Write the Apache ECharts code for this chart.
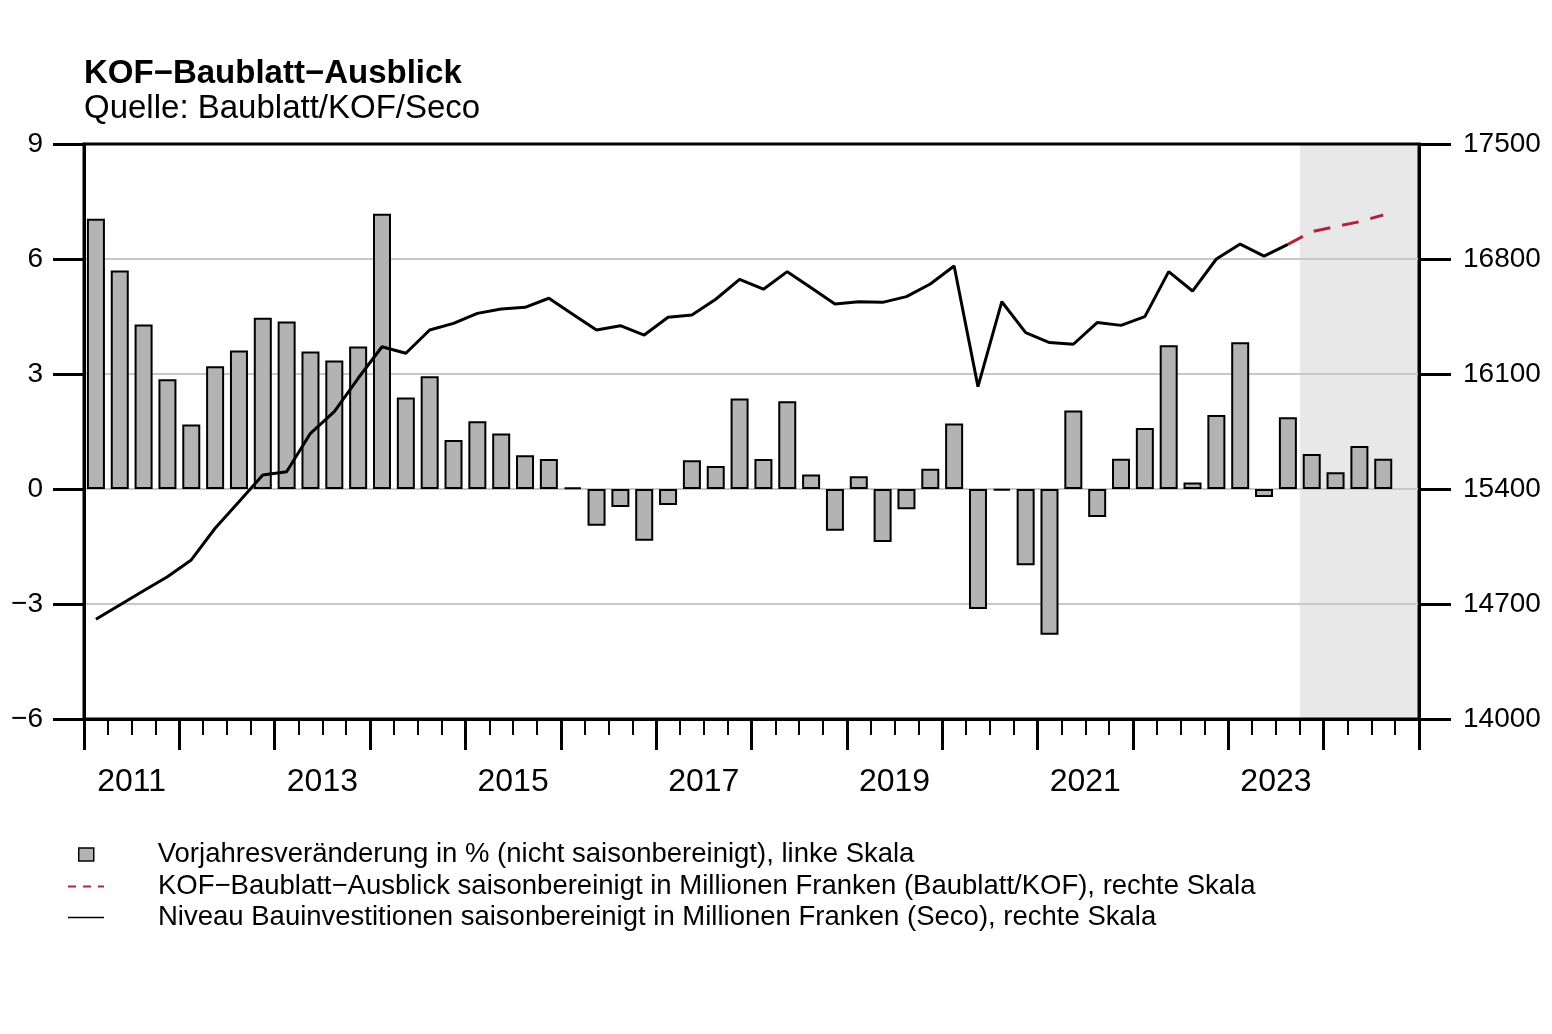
<!DOCTYPE html>
<html><head><meta charset="utf-8">
<script src="https://cdn.jsdelivr.net/npm/echarts@6/dist/echarts.min.js"></script>
<style>html,body{margin:0;padding:0;background:#fff}#c{width:1552px;height:1034px}</style>
</head><body><div id="c"></div>
<script>
// Quarterly categories 2011Q1 .. 2024Q4
const quarters = [];
for (let y = 2011; y <= 2024; y++) for (let q = 1; q <= 4; q++) quarters.push(y + 'Q' + q);

// Vorjahresveränderung in % (bars), 2011Q1 .. 2024Q3
const yoyChange = [7.05, 5.70, 4.29, 2.86, 1.68, 3.20, 3.61, 4.47, 4.37, 3.59,
  3.35, 3.72, 7.18, 2.39, 2.94, 1.28, 1.77, 1.45, 0.88, 0.78,
  0.04, -0.96, -0.47, -1.35, -0.42, 0.75, 0.60, 2.36, 0.78, 2.29,
  0.38, -1.09, 0.33, -1.38, -0.53, 0.53, 1.71, -3.13, -0.04, -1.99,
  -3.80, 2.05, -0.73, 0.79, 1.59, 3.75, 0.17, 1.93, 3.83, -0.21,
  1.87, 0.91, 0.44, 1.12, 0.79];

// Niveau Bauinvestitionen (Seco), 2011Q1 .. 2023Q3
const bauinvest = [14607, 14694, 14781, 14866, 14968, 15161, 15323, 15485, 15505, 15739,
  15871, 16074, 16266, 16226, 16368, 16408, 16469, 16496, 16506, 16561,
  16464, 16368, 16394, 16337, 16445, 16459, 16555, 16676, 16616, 16723,
  16625, 16526, 16540, 16536, 16571, 16648, 16757, 16023, 16540, 16352,
  16291, 16281, 16413, 16396, 16449, 16723, 16605, 16800, 16891, 16818,
  16889];

// KOF-Baublatt-Ausblick, 2023Q3 .. 2024Q3
const ausblickQuarters = ['2023Q3', '2023Q4', '2024Q1', '2024Q2', '2024Q3'];
const ausblick = [16889, 16966, 16997, 17027, 17068];

// Forecast shading range
const shadeFrom = '2023Q4';
const shadeTo = '2024Q4';

// Axis ranges / ticks
const leftAxis = {min: -6, max: 9, interval: 3};
const rightAxis = {min: 14000, max: 17500, interval: 700};
const yearLabels = [2011, 2013, 2015, 2017, 2019, 2021, 2023];

const nameBars = 'Vorjahresveränderung in % (nicht saisonbereinigt), linke Skala';
const nameKOF = 'KOF\u2212Baublatt\u2212Ausblick saisonbereinigt in Millionen Franken (Baublatt/KOF), rechte Skala';
const nameNiveau = 'Niveau Bauinvestitionen saisonbereinigt in Millionen Franken (Seco), rechte Skala';

function qStart(label) { const y = +label.slice(0, 4), q = +label.slice(5); return y + (q - 1) / 4; }
function qMid(label) { return qStart(label) + 0.125; }

const FONT = 'Liberation Sans, Arial, Helvetica, sans-serif';
const hiddenSymbol = {color: 'rgba(0,0,0,0)', borderWidth: 0, opacity: 0};

const chart = echarts.init(document.getElementById('c'), null, {renderer: 'canvas'});
chart.setOption({
  animation: false,
  backgroundColor: '#fff',
  textStyle: {fontFamily: FONT, color: '#000'},
  title: [
    {text: 'KOF\u2212Baublatt\u2212Ausblick', left: 84, top: 57, padding: 0,
     textStyle: {fontFamily: FONT, fontSize: 33, fontWeight: 'bold', color: '#000', lineHeight: 33}},
    {text: 'Quelle: Baublatt/KOF/Seco', left: 84, top: 92, padding: 0,
     textStyle: {fontFamily: FONT, fontSize: 33, fontWeight: 'normal', color: '#000', lineHeight: 33}}
  ],
  grid: {left: 84, right: 133, top: 144, bottom: 315, show: true, borderColor: '#000', borderWidth: 3,
         backgroundColor: 'transparent', containLabel: false, outerBoundsMode: 'none'},
  xAxis: [
    {type: 'value', position: 'bottom', min: 2011, max: 2025, interval: 1,
     axisLine: {show: true, onZero: false, lineStyle: {color: '#000', width: 3}},
     axisTick: {show: true, length: 31, lineStyle: {color: '#000', width: 3}},
     minorTick: {show: true, splitNumber: 4, length: 16, lineStyle: {color: '#000', width: 2}},
     axisLabel: {show: false}, splitLine: {show: false}, minorSplitLine: {show: false}},
    {type: 'value', position: 'bottom', min: 2011, max: 2025, interval: 0.5,
     axisLine: {show: false}, axisTick: {show: false}, splitLine: {show: false},
     axisLabel: {show: true, margin: 47, fontSize: 32, fontFamily: FONT, color: '#000',
       formatter: function (v) { const y = Math.floor(v); return (Math.abs(v - y - 0.5) < 1e-6 && yearLabels.indexOf(y) >= 0) ? String(y) : ''; }}}
  ],
  yAxis: [
    {type: 'value', position: 'left', min: leftAxis.min, max: leftAxis.max, interval: leftAxis.interval,
     axisLine: {show: true, onZero: false, lineStyle: {color: '#000', width: 3}},
     axisTick: {show: true, length: 31, lineStyle: {color: '#000', width: 3}},
     axisLabel: {margin: 41, fontSize: 28, fontFamily: FONT, color: '#000',
       formatter: v => v < 0 ? '\u2212' + Math.abs(v) : String(v)},
     splitLine: {show: true, showMinLine: false, showMaxLine: false, lineStyle: {color: '#c8c8c8', width: 2}}},
    {type: 'value', position: 'right', min: rightAxis.min, max: rightAxis.max, interval: rightAxis.interval,
     axisLine: {show: true, onZero: false, lineStyle: {color: '#000', width: 3}},
     axisTick: {show: true, length: 32, lineStyle: {color: '#000', width: 3}},
     axisLabel: {margin: 44, fontSize: 28, fontFamily: FONT, color: '#000', formatter: v => String(v)},
     splitLine: {show: false}}
  ],
  legend: [
    {orient: 'vertical', left: 78, top: 839, padding: 0, itemWidth: 15, itemHeight: 13, itemGap: 0, selectedMode: false,
     data: [{name: nameBars, icon: 'rect', itemStyle: {color: '#b3b3b3', borderColor: '#000', borderWidth: 1.5}}],
     textStyle: {fontFamily: FONT, fontSize: 27.5, color: '#000', lineHeight: 31, padding: [0, 0, 0, 59]}},
    {orient: 'vertical', left: 67, top: 871, padding: 0, itemWidth: 36, itemHeight: 14, itemGap: 0, selectedMode: false,
     data: [
       {name: nameKOF, lineStyle: {color: '#b3243a', width: 2, type: [8, 7]}, itemStyle: hiddenSymbol},
       {name: nameNiveau, lineStyle: {color: '#000', width: 1.5, type: 'solid'}, itemStyle: hiddenSymbol}
     ],
     textStyle: {fontFamily: FONT, fontSize: 27.5, color: '#000', lineHeight: 31, padding: [0, 0, 0, 49]}}
  ],
  series: [
    {name: 'shade', type: 'line', xAxisIndex: 0, yAxisIndex: 0, data: [], z: -1, silent: true,
     markArea: {silent: true, z: -1, itemStyle: {color: '#e8e8e8'},
       data: [[{xAxis: qStart(shadeFrom)}, {xAxis: qStart(shadeTo) + 0.25}]]}},
    {name: nameBars, type: 'bar', xAxisIndex: 0, yAxisIndex: 0, barWidth: 18, z: 2,
     itemStyle: {color: '#b3b3b3', borderColor: '#000', borderWidth: 2},
     data: yoyChange.map((v, i) => [qMid(quarters[i]), v])},
    {name: nameKOF, type: 'line', xAxisIndex: 0, yAxisIndex: 1, symbol: 'none', showSymbol: false, z: 4,
     lineStyle: {color: '#b3243a', width: 3, type: [17, 12]}, itemStyle: {color: '#b3243a'},
     data: ausblick.map((v, i) => [qMid(ausblickQuarters[i]), v])},
    {name: nameNiveau, type: 'line', xAxisIndex: 0, yAxisIndex: 1, symbol: 'none', showSymbol: false, z: 3,
     lineStyle: {color: '#000', width: 3}, itemStyle: {color: '#000'},
     data: bauinvest.map((v, i) => [qMid(quarters[i]), v])}
  ]
});
</script></body></html>
